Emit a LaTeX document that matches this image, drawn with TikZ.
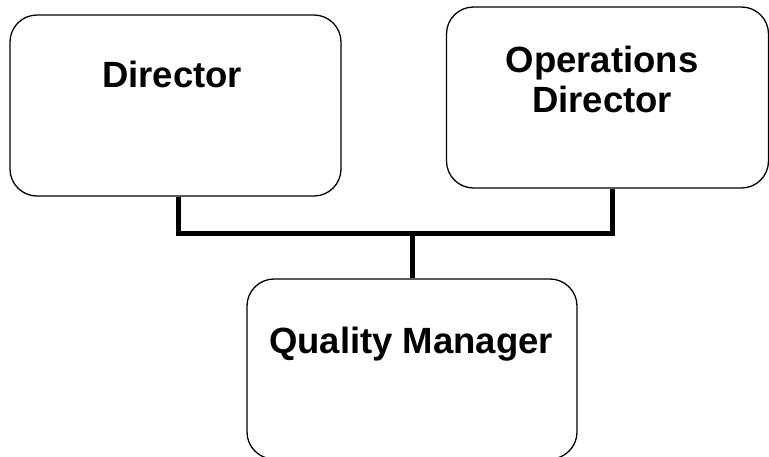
\documentclass[tikz,border=0pt]{standalone}
\usepackage{fontspec}
\setmainfont{Liberation Sans}
\begin{document}
\begin{tikzpicture}[x=1pt, y=-1pt,
    box/.style={draw, line width=1.3pt, rounded corners=27pt, inner sep=0pt},
    lbl/.style={font=\fontsize{36.5}{40}\selectfont\bfseries, align=center, inner sep=0pt},
    link/.style={line width=5pt}]
    \useasboundingbox (0, 0) rectangle (769, 456);
    \node[box, minimum width=331, minimum height=181] (dir) at (175.5, 105.5) {};
    \node[box, minimum width=322, minimum height=181] (ops) at (607.5, 97.5) {};
    \node[box, minimum width=330, minimum height=180] (qm) at (412, 369) {};
    \node[lbl, anchor=base] (dirtxt) at (172, 87) {Director};
    \node[lbl, anchor=base] (opstxt) at (602, 112) {Operations\\Director};
    \node[lbl, anchor=base] (qmtxt) at (411, 353) {Quality Manager};
    \coordinate (junc) at (412, 233);
    \draw[link] ([xshift=2.5pt]dir.south) |- (junc) -| ([xshift=4.5pt]ops.south);
    \draw[link] (junc) -- (qm.north);
\end{tikzpicture}
\end{document}
